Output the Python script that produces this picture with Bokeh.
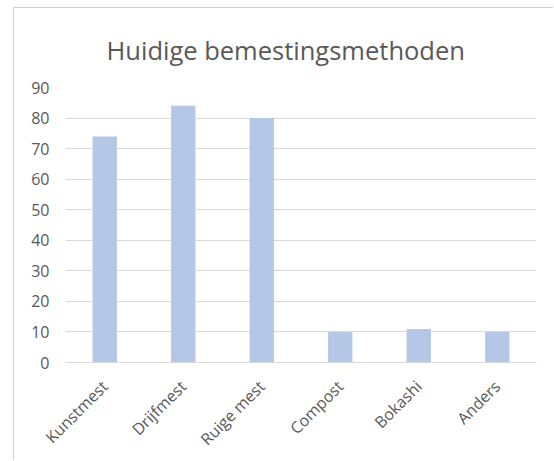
from math import pi
from bokeh.plotting import figure
from bokeh.models import Range1d, FactorRange, Title, ColumnDataSource
from bokeh.embed import file_html
from bokeh.resources import INLINE

categories = ["Kunstmest", "Drijfmest", "Ruige mest", "Compost", "Bokashi", "Anders"]
values = [74, 84, 80, 10, 11, 10]
y_ticks = [0, 10, 20, 30, 40, 50, 60, 70, 80, 90]

FONT = "Open Sans"
TXT = "#595959"
GRID = "#d9d9d9"

src = ColumnDataSource(data=dict(cat=categories, val=values))

p = figure(width=540, height=453, output_backend="svg", toolbar_location=None,
           x_range=FactorRange(*categories, range_padding=0), y_range=Range1d(0, 90),
           min_border_left=51, min_border_right=18, min_border_top=79, min_border_bottom=99)
p.styles = {"margin-left": "13px", "margin-top": "7px",
            "border-left": "1px solid #d0d0d0", "border-top": "1px solid #d0d0d0"}
p.title = None
p.vbar(x="cat", top="val", width=0.31, source=src, color="#b4c7e7", line_color=None)

t = Title(text="Huidige bemestingsmethoden", align="left", text_font=FONT,
          text_font_size="25.5px", text_font_style="normal", text_color=TXT, offset=41,
          standoff=41)
p.add_layout(t, "above")

p.outline_line_color = None
p.background_fill_color = "white"
p.border_fill_color = "white"

p.xgrid.grid_line_color = None
p.ygrid.grid_line_color = GRID
p.ygrid.ticker = y_ticks

p.yaxis.ticker = y_ticks
p.yaxis.axis_line_color = None
p.yaxis.major_tick_line_color = None
p.yaxis.major_tick_out = 0
p.yaxis.major_tick_in = 0
p.yaxis.minor_tick_line_color = None
p.yaxis.major_label_text_font = FONT
p.yaxis.major_label_text_font_size = "16px"
p.yaxis.major_label_text_color = TXT
p.yaxis.major_label_standoff = 16

p.xaxis.axis_line_color = GRID
p.xaxis.major_tick_line_color = None
p.xaxis.major_tick_out = 0
p.xaxis.major_tick_in = 0
p.xaxis.minor_tick_line_color = None
p.xaxis.major_label_orientation = pi / 4
p.xaxis.major_label_text_font = FONT
p.xaxis.major_label_text_font_size = "16px"
p.xaxis.major_label_text_color = TXT
p.xaxis.major_label_standoff = 21

open("out.html", "w").write(file_html(p, INLINE))
